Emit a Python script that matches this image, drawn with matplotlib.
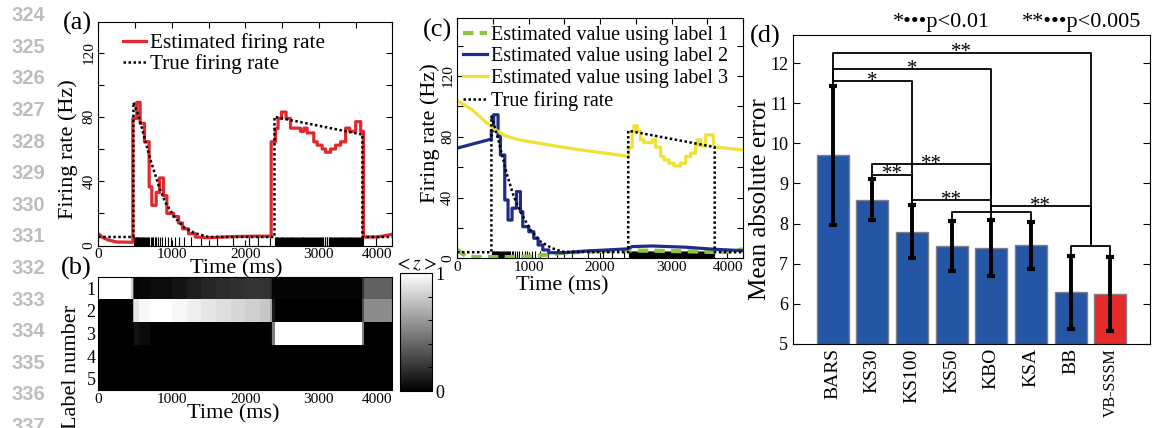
import numpy as np
import matplotlib
matplotlib.use("Agg")
import matplotlib.pyplot as plt
from matplotlib.ticker import MultipleLocator

plt.rcParams['font.family'] = ['Liberation Serif', 'DejaVu Serif']
plt.rcParams['mathtext.fontset'] = 'stix'

# ---------------- data ----------------
# (a) true firing rate, (time ms, rate Hz)
true_a = [(0, 5.3), (478, 5.3), (478, 89), (546, 81), (637, 65.5), (705, 54), (819, 37.6),
          (910, 27), (1046, 17), (1183, 10.6), (1319, 7.6), (1501, 5.3), (2397, 5.3),
          (2397, 80), (3593, 69), (3593, 5.3), (4000, 5.3)]

# (a) estimated firing rate (step-like)
est_a = [(0, 7.5), (60, 5), (130, 3.5), (250, 2.2), (470, 2.0), (470, 79), (523, 79),
         (523, 89), (569, 89), (569, 76), (628, 76), (628, 64.5), (692, 64.5), (692, 36.5),
         (728, 36.5), (728, 25), (787, 25), (787, 33), (832, 33), (832, 42), (887, 42),
         (887, 31), (933, 31), (933, 20), (1024, 20), (1024, 18), (1092, 18), (1092, 14),
         (1146, 14), (1146, 10.4), (1228, 10.4), (1228, 7.3), (1319, 7.3), (1319, 5.3),
         (1500, 4.8), (1800, 5.5), (2100, 5.8), (2352, 5.8), (2352, 64.5), (2410, 64.5),
         (2410, 72.8), (2446, 72.8), (2446, 79), (2491, 79), (2491, 83), (2555, 83),
         (2555, 79), (2615, 79), (2615, 73), (2750, 73), (2750, 71), (2796, 71), (2796, 73),
         (2841, 73), (2841, 70), (2932, 70), (2932, 64.5), (2978, 64.5), (2978, 62.4),
         (3046, 62.4), (3046, 60), (3092, 60), (3092, 58), (3160, 58), (3160, 60),
         (3228, 60), (3228, 62.4), (3297, 62.4), (3297, 64.5), (3365, 64.5), (3365, 73),
         (3420, 73), (3420, 71), (3502, 71), (3502, 77), (3570, 77), (3570, 71), (3607, 71),
         (3607, 5.3), (3800, 5.3), (3950, 6.5), (4000, 7)]

# spike times (ms)
spike_times = [
    490, 498, 507, 516, 523, 531, 540, 548, 559, 567, 578, 590, 601, 613, 626, 641, 652,
    667, 680, 694, 712, 729, 745, 766, 788, 812, 845, 872, 909, 948, 985, 1043, 1092,
    1164, 1268, 1395, 1612, 1832, 2046, 2168, 2331,
    2403, 2414, 2425, 2437, 2450, 2461, 2470, 2482, 2495, 2506, 2517, 2531, 2543, 2552,
    2566, 2578, 2590, 2603, 2617, 2628, 2641, 2655, 2666, 2680, 2694, 2705, 2714, 2729,
    2741, 2752, 2768, 2779, 2791, 2803, 2817, 2830, 2843, 2855, 2866, 2880, 2894, 2907,
    2921, 2935, 2948, 2962, 2977, 2991, 3005, 3020, 3034, 3049, 3062, 3078, 3091, 3105,
    3118, 3132, 3146, 3159, 3171, 3184, 3196, 3210, 3222, 3235, 3248, 3260, 3272, 3285,
    3297, 3309, 3321, 3334, 3345, 3357, 3369, 3382, 3393, 3405, 3418, 3429, 3441, 3453,
    3466, 3478, 3491, 3503, 3517, 3530, 3543, 3557, 3570, 3584, 3597, 3782]

# (b) posterior label probabilities <z>, rows = labels 1..5
z_edges = [0, 440, 470, 490, 560, 700, 1000, 1200, 1400, 1600, 1800, 2000, 2200, 2330, 2370,
           2400, 3590, 3620, 4000]
z_label1 = [1.0, 0.8, 0.3, 0.02, 0.03, 0.05, 0.08, 0.12, 0.15, 0.17, 0.19, 0.2, 0.2, 0.15, 0.02, 0.02, 0.2, 0.38]
z_label2 = [0.0, 0.0, 0.7, 0.9, 0.97, 1.0, 0.97, 0.93, 0.9, 0.87, 0.84, 0.81, 0.78, 0.65, 0.1, 0.0, 0.3, 0.55]
z_label3 = [0.0, 0.0, 0.0, 0.08, 0.04, 0.0, 0, 0, 0, 0, 0, 0, 0, 0.05, 0.5, 1.0, 0.5, 0.0]
z_label4 = [0.0] * 18
z_label5 = [0.0] * 18

# (c) estimates using each label, (time ms, rate Hz)
est1_c = [(0, 5.9), (120, 1.5), (250, 0.8), (700, 0.8), (1000, 1.2), (1250, 2.3), (1500, 3.7),
          (1800, 4.4), (2381, 5.1), (2731, 5.0), (3198, 4.6), (3570, 4.2), (3800, 4.4),
          (4000, 5.9)]
est2_c = [(0, 72.5), (480, 78.5), (480, 84), (513, 84), (513, 94.5), (574, 94.5), (574, 80.2),
          (607, 80.2), (607, 68), (668, 68), (668, 38.4), (714, 38.4), (714, 25.2), (770, 25.2),
          (770, 33), (831, 33), (831, 43.9), (887, 43.9), (887, 30.7), (920, 30.7), (920, 20.8),
          (1004, 20.8), (1004, 17.5), (1074, 17.5), (1074, 13.2), (1134, 13.2), (1134, 8.8),
          (1200, 8.8), (1200, 5.5), (1284, 5.5), (1284, 3.7), (1517, 3.7), (1797, 4.8),
          (2100, 5.5), (2381, 6.2), (2450, 7.7), (2730, 8.1), (3200, 7.3), (3580, 6.0),
          (4000, 5.0)]
est3_c = [(0, 104), (210, 97.8), (397, 90), (537, 84.6), (677, 80.6), (864, 78), (1144, 75.8),
          (1471, 73.2), (1797, 70.9), (2077, 69.2), (2400, 67), (2400, 73), (2450, 73),
          (2450, 83.5), (2474, 83.5), (2474, 87.2), (2520, 87.2), (2520, 83.5), (2567, 83.5),
          (2567, 78), (2614, 78), (2614, 76.2), (2731, 76.2), (2731, 78), (2777, 78),
          (2777, 73.2), (2848, 73.2), (2848, 67), (2894, 67), (2894, 64.8), (2964, 64.8),
          (2964, 62.6), (3034, 62.6), (3034, 60.8), (3128, 60.8), (3128, 62.6), (3198, 62.6),
          (3198, 67), (3268, 67), (3268, 69.2), (3338, 69.2), (3338, 74.7), (3362, 74.7),
          (3362, 78), (3408, 78), (3408, 74), (3478, 74), (3478, 81.3), (3580, 81.3),
          (3595, 73.2), (4000, 71.4)]
true_c = [(0, 4), (481, 4), (481, 93.4), (560, 81.3), (630, 68), (700, 55), (794, 40.6),
          (887, 30.7), (1027, 18.7), (1167, 11), (1330, 6.6), (1494, 4.2), (2395, 4.0),
          (2395, 84), (3604, 73.2), (3604, 4), (4000, 4)]

time_ticks = [0, 1000, 2000, 3000, 4000]

# (d) mean absolute error per method
methods = ['BARS', 'KS30', 'KS100', 'KS50', 'KBO', 'KSA', 'BB', 'VB-SSSM']
mae = [9.70, 8.59, 7.80, 7.44, 7.39, 7.46, 6.29, 6.25]
mae_err = [1.74, 0.51, 0.66, 0.62, 0.70, 0.59, 0.91, 0.92]
# significance brackets: left x, right x, height, left foot, right foot, stars
brackets = [
    (1, 7.5, 12.26, 11.44, 7.43, '**'),
    (1, 5, 11.85, 11.44, 8.09, '*'),
    (1, 3, 11.55, 11.44, 8.46, '*'),
    (2, 5, 9.49, 9.10, 8.30, '**'),
    (2, 3, 9.22, 9.10, 8.46, '**'),
    (3, 5, 8.59, 8.46, 8.30, '**'),
    (5, 7.5, 8.44, 8.30, 7.43, '**'),
    (4, 6, 8.30, 8.07, 8.06, ''),
    (7, 8, 7.43, 7.19, 7.16, ''),
]

line_numbers = list(range(324, 338))

# ---------------- figure ----------------
W, H = 1152, 428
fig = plt.figure(figsize=(W / 100, H / 100), dpi=100)


def box(l, t, r, b):
    return [l / W, 1 - b / H, (r - l) / W, (b - t) / H]


def xy(pairs):
    return [p[0] for p in pairs], [p[1] for p in pairs]


red = '#e0282e'
navy = '#1f2d86'
yellow = '#f0e232'
green = '#8cc63e'
dotted = (0, (1, 1))


def time_axis(ax):
    ax.set_xticks(time_ticks)
    ax.set_xlim(0, 4000)
    ax.get_xticklabels()[-1].set_ha('right')


def style_rate(ax, ytop):
    ax.xaxis.set_minor_locator(MultipleLocator(500))
    time_axis(ax)
    ax.set_ylim(0, ytop)
    ax.yaxis.set_major_locator(MultipleLocator(40))
    ax.yaxis.set_minor_locator(MultipleLocator(20))
    ax.tick_params(which='both', direction='in', top=True, right=True, labelsize=11,
                   length=4, width=0.8, pad=2)
    plt.setp(ax.get_yticklabels(), rotation=90, va='center')


# (a)
ax_a = fig.add_axes(box(98.3, 22, 392.3, 245.5))
ax_a.vlines(spike_times, 0, 5.2, color='k', lw=0.8)
ax_a.plot(*xy(est_a), color=red, lw=2.3, label='Estimated firing rate')
ax_a.plot(*xy(true_a), color='k', lw=1.8, ls=dotted, label='True firing rate')
style_rate(ax_a, 139)
ax_a.set_xlabel('Time (ms)', fontsize=16)
ax_a.xaxis.set_label_coords(0.47, -0.062)
ax_a.set_ylabel('Firing rate (Hz)', fontsize=16)
ax_a.yaxis.set_label_coords(-0.07, 0.43)
ax_a.legend(loc='upper left', bbox_to_anchor=(0.085, 0.95), frameon=False, fontsize=15.3,
            handlelength=1.05, handletextpad=0.2, labelspacing=0.05, borderpad=0,
            borderaxespad=0)

# (b)
ax_b = fig.add_axes(box(98.3, 276.7, 392.3, 390))
z_vals = np.array([z_label1, z_label2, z_label3, z_label4, z_label5])
im = ax_b.pcolormesh(z_edges, np.arange(0.5, 6, 1), z_vals, cmap='gray', vmin=0, vmax=1)
time_axis(ax_b)
ax_b.set_ylim(5.5, 0.5)
ax_b.set_yticks([1, 2, 3, 4, 5])
ax_b.tick_params(direction='in', labelsize=11, length=0, pad=2)
ax_b.tick_params(axis='y', labelsize=13)
ax_b.set_xlabel('Time (ms)', fontsize=16)
ax_b.xaxis.set_label_coords(0.46, -0.125)
ax_b.set_ylabel('Label number', fontsize=16)
ax_b.yaxis.set_label_coords(-0.06, 0.2)

cax = fig.add_axes(box(399.5, 273, 432.5, 391))
cb = fig.colorbar(im, cax=cax, ticks=[0, 1])
cb.ax.yaxis.set_minor_locator(MultipleLocator(0.2))
cb.ax.tick_params(which='both', direction='in', labelsize=13, length=3, width=0.7, pad=2)
cb.outline.set_linewidth(0.8)
cax.set_title(r'$< z >$', fontsize=14, pad=1)

# (c)
ax_c = fig.add_axes(box(457, 18.3, 743, 258.3))
ax_c.vlines(spike_times, 0, 4.5, color='k', lw=0.8)
ax_c.plot(*xy(est1_c), color=green, lw=3, ls=(0, (2.5, 1.5)),
          label='Estimated value using label 1')
ax_c.plot(*xy(est2_c), color=navy, lw=2.3, label='Estimated value using label 2')
ax_c.plot(*xy(est3_c), color=yellow, lw=2.3, label='Estimated value using label 3')
ax_c.plot(*xy(true_c), color='k', lw=1.8, ls=dotted, label='True firing rate')
style_rate(ax_c, 158)
ax_c.set_xlabel('Time (ms)', fontsize=16)
ax_c.xaxis.set_label_coords(0.367, -0.075)
ax_c.set_ylabel('Firing rate (Hz)', fontsize=16)
ax_c.yaxis.set_label_coords(-0.058, 0.52)
ax_c.legend(loc='upper left', bbox_to_anchor=(0.02, 0.97), frameon=False, fontsize=14.5,
            handlelength=1.2, handletextpad=0.2, labelspacing=0.13, borderpad=0,
            borderaxespad=0)

# (d)
ax_d = fig.add_axes(box(793, 35, 1150, 344))
xpos = np.arange(1, len(methods) + 1)
colors = ['#2556a5'] * (len(methods) - 1) + ['#e42a2b']
ax_d.bar(xpos, mae, width=0.8, color=colors, edgecolor='#808080', lw=1, zorder=2)
ax_d.errorbar(xpos, mae, yerr=mae_err, fmt='none', ecolor='k', elinewidth=2.8,
              capsize=3, capthick=3, zorder=3)
for x1, x2, y, b1, b2, stars in brackets:
    ax_d.plot([x1, x1, x2, x2], [b1, y, y, b2], color='k', lw=1.3, zorder=4)
    if stars:
        ax_d.text((x1 + x2) / 2, y - 0.12, stars, ha='center', va='baseline', fontsize=15,
                  zorder=5)
ax_d.set_xlim(0, 9)
ax_d.set_ylim(5, 12.7)
ax_d.set_xticks(xpos)
ax_d.set_xticklabels(methods, rotation=90, fontsize=14)
ax_d.get_xticklabels()[-1].set_fontsize(11.5)
ax_d.tick_params(axis='x', length=0, pad=3)
ax_d.tick_params(axis='y', direction='in', right=True, labelsize=13, length=5, width=0.8)
ax_d.set_ylabel('Mean absolute error', fontsize=18)
ax_d.yaxis.set_label_coords(-0.062, 0.47)
fig.text(893 / W, 1 - 22 / H, '*\u2022\u2022\u2022p<0.01', fontsize=16, va='center')
fig.text(1022 / W, 1 - 22 / H, '**\u2022\u2022\u2022p<0.005', fontsize=16, va='center')

# panel letters
for lab, (px, py) in zip(['(a)', '(b)', '(c)', '(d)'],
                         [(77, 23), (76, 268), (437, 30), (765, 36)]):
    fig.text(px / W, 1 - py / H, lab, fontsize=19, ha='center', va='center')

# manuscript line numbers
for i, n in enumerate(line_numbers):
    fig.text(28 / W, 1 - (15.7 + 31.6 * i) / H, str(n), fontsize=14.5, fontweight='bold',
             color='#bdbdbd', ha='center', va='center', family='Liberation Sans')

fig.savefig('out.png', dpi=100)
